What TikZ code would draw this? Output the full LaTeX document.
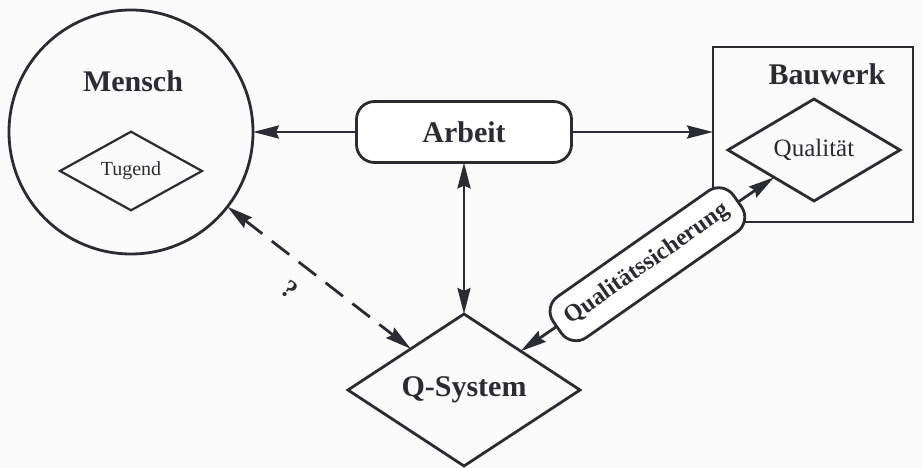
\documentclass[tikz,border=0pt]{standalone}
\usepackage{fontspec}
\setmainfont{Liberation Serif}
\usetikzlibrary{shapes.geometric,arrows.meta}
\definecolor{c2B2B33}{RGB}{43,43,51}
\definecolor{cFBFBFC}{RGB}{251,251,252}

\begin{document}
\begin{tikzpicture}[y=1pt,x=1pt,yscale=-1, inner sep=0pt, outer sep=0pt,
    color=c2B2B33, line width=2.8pt,
    >={Stealth[length=26pt,width=13pt,inset=3pt]},
    bigtxt/.style={font=\fontsize{30}{36}\selectfont\bfseries},
    raute/.style={diamond, draw},
    kasten/.style={draw, rounded corners=18pt, fill=white},
    gestrichelt/.style={dash pattern=on 22pt off 12pt}]
  \path[use as bounding box, fill=cFBFBFC] (0,0) rectangle (922,468);

  % Mensch
  \node[circle, draw, minimum size=244pt] (mensch) at (131,132) {};
  \node[bigtxt, anchor=base] (menschtxt) at (133,92) {Mensch};
  \node[raute, line width=2.2pt, minimum width=142pt, minimum height=53pt,
    font=\fontsize{20}{24}\selectfont] (tugend) at (131,171) {Tugend};

  % Arbeit, Bauwerk
  \node[kasten, bigtxt, minimum width=215pt, minimum height=61pt] (arbeit)
    at (464,132) {Arbeit};
  \node[draw, minimum width=200pt, minimum height=175pt] (bauwerk)
    at (813,134.5) {};
  \node[bigtxt, anchor=base] (bauwerktxt) at (827,85) {Bauwerk};
  \node[raute, minimum width=172pt, minimum height=84pt,
    font=\fontsize{25}{30}\selectfont] (qualitaet) at (814,150) {Qualität};

  % Q-System
  \node[raute, bigtxt, minimum width=232pt, minimum height=152pt] (qsystem)
    at (464,390) {Q-System};

  \draw[->] (arbeit) -- (mensch);
  \draw[->] (arbeit.east) -- (arbeit.east -| bauwerk.west);
  \draw[<->] (arbeit) -- (qsystem);
  \draw[<->, gestrichelt] (mensch) -- (qsystem);
  \node[rotate=-37, font=\fontsize{26}{30}\selectfont\bfseries] (frage)
    at (290,290) {?};
  \draw[<->] (qsystem) -- node[rotate=35, kasten, minimum width=220pt,
    minimum height=50pt, font=\fontsize{24}{29}\selectfont\bfseries] (qsicherung)
    {Qualitätssicherung} (qualitaet);
\end{tikzpicture}
\end{document}
